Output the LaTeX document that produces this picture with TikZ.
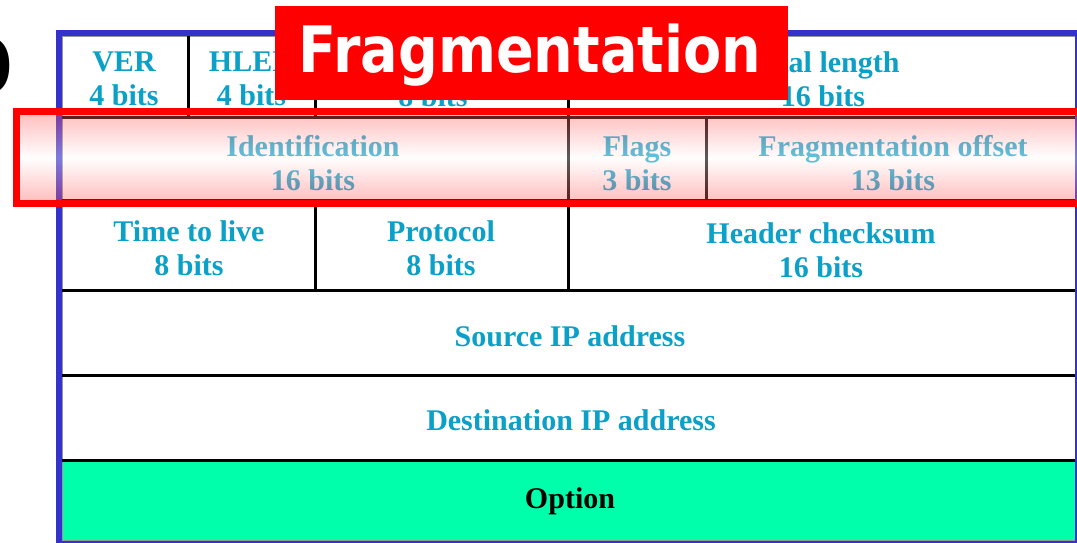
\documentclass[tikz,border=0pt]{standalone}
\usepackage{fontspec}
\setmainfont{Liberation Serif}
\newfontfamily\fragfont{DejaVu Sans}
\definecolor{frameblue}{RGB}{51,51,204}
\definecolor{txtcyan}{RGB}{10,160,200}
\definecolor{optgreen}{RGB}{0,255,170}
\definecolor{hired}{RGB}{255,0,0}
\definecolor{hipink}{RGB}{255,70,70}
\definecolor{cellgray}{RGB}{150,150,150}
\usetikzlibrary{calc}
\tikzset{
  fieldtxt/.style={align=center,text=txtcyan,inner sep=0pt,font=\bfseries\fontsize{30}{34}\selectfont},
  rule/.style={line width=3pt,black},
}
\begin{document}
\begin{tikzpicture}[x=1pt,y=-1pt]
\useasboundingbox (0,0) rectangle (1077,542);
\fill[white] (0,0) rectangle (1077,542);
% partial glyph at left
\begin{scope}
\clip (0,0) rectangle (1077,542);
\node[anchor=east,inner sep=0pt,font=\fragfont\bfseries\fontsize{76}{76}\selectfont] (cut) at (14,66) {0};
\end{scope}
% table
\fill[optgreen] (62,460) rectangle (1075,540);
\draw[cellgray,line width=1pt] (62,36) rectangle (1075,540);
\draw[frameblue,line width=5.5pt] (59,33) rectangle (1078,544);
% horizontal rules
\foreach \y in {117,200,290,375,460} \draw[rule] (62,\y) -- (1075,\y);
% vertical rules
\foreach \x in {188,315,568} \draw[rule] (\x,36) -- (\x,117);
\foreach \x in {568,706} \draw[rule] (\x,117) -- (\x,200);
\foreach \x in {315,568} \draw[rule] (\x,200) -- (\x,290);
% field texts
\node[fieldtxt] (ver) at (124,79) {VER\\4 bits};
\node[fieldtxt] (hlen) at (251.5,79) {HLEN\\4 bits};
\node[fieldtxt] (svc) at (433,79) {Service type\\8 bits};
\node[fieldtxt] (tot) at (823,79) {Total length\\16 bits};
\node[fieldtxt] (idf) at (313,163) {Identification\\16 bits};
\node[fieldtxt] (flg) at (637,163) {Flags\\3 bits};
\node[fieldtxt] (fof) at (893,163) {Fragmentation offset\\13 bits};
\node[fieldtxt] (ttl) at (189,248.5) {Time to live\\8 bits};
\node[fieldtxt] (pro) at (441,248.5) {Protocol\\8 bits};
\node[fieldtxt] (hck) at (821,250.5) {Header checksum\\16 bits};
\node[fieldtxt] (src) at (570,336) {Source IP address};
\node[fieldtxt] (dst) at (571,420) {Destination IP address};
\node[fieldtxt,text=black] (opt) at (570,501) {Option};
% highlight overlay
\shade[top color=hipink,bottom color=hipink,middle color=white,opacity=0.36] (17,112) rectangle (1080,203);
\draw[hired,line width=7pt] (16.5,111.5) rectangle (1082,203);
% title box
\node[fill=hired,minimum width=513pt,minimum height=94pt,inner sep=0pt,anchor=north west] (ttlbox) at (275,6) {};
\node[text=white,inner sep=0pt,anchor=base,font=\fragfont\bfseries\fontsize{64}{64}\selectfont] (ttltxt) at (530,72) {\scalebox{0.87}[1]{Fragmentation}};
\end{tikzpicture}
\end{document}
